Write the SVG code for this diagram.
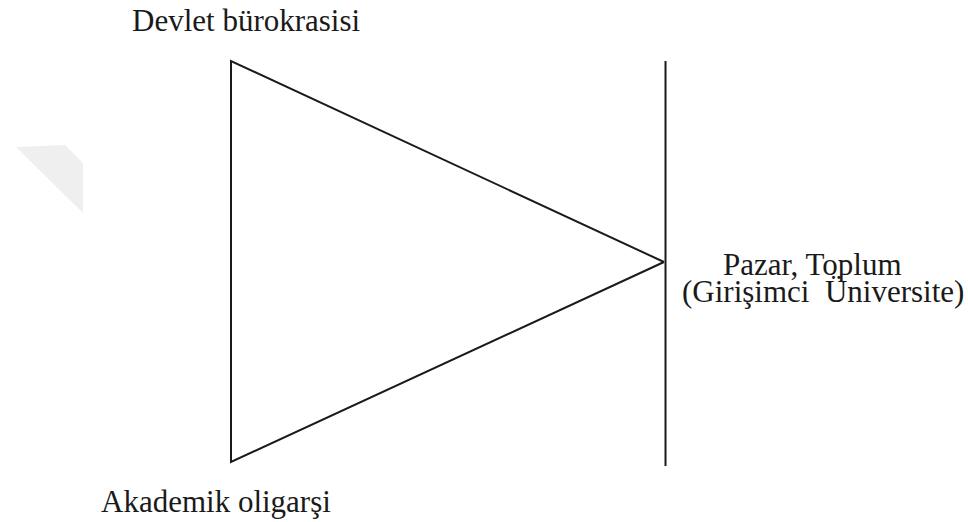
<svg xmlns="http://www.w3.org/2000/svg" width="968" height="522" viewBox="0 0 968 522">
<style>
.lbl{font-family:"Liberation Serif","Times New Roman",serif;font-size:31px;fill:#1a1a1a;white-space:pre}
.ln{fill:none;stroke:#1a1a1a;stroke-width:2;stroke-linejoin:miter}
</style>
<rect width="968" height="522" fill="#ffffff"/>
<polygon points="16,147 65,145 83,163 83,213" fill="#efefef"/>
<g id="connectors">
<polyline class="ln" points="664,262 231,61 231,462 664,262"/>
<line class="ln" x1="665.5" y1="61" x2="665.5" y2="466"/>
</g>
<g id="devlet"><text class="lbl" x="132" y="31">Devlet bürokrasisi</text></g>
<g id="akademik"><text class="lbl" x="101" y="512">Akademik oligarşi</text></g>
<g id="pazar">
<text class="lbl" x="723" y="275">Pazar, Toplum</text>
<text class="lbl" x="682" y="302">(Girişimci  Üniversite)</text>
</g>
</svg>
